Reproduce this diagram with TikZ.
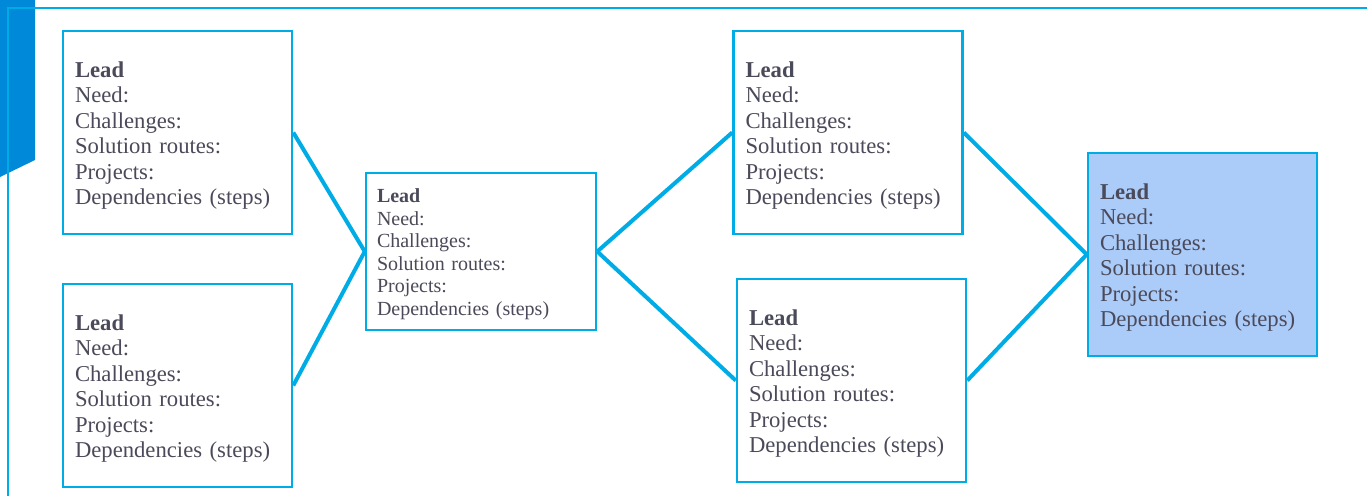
\documentclass[tikz,border=0pt]{standalone}
\usepackage{fontspec}
\setmainfont{Liberation Serif}

\definecolor{cyanline}{RGB}{0,172,230}
\definecolor{bandblue}{RGB}{0,137,216}
\definecolor{textgray}{RGB}{74,74,90}
\definecolor{leadfill}{RGB}{171,203,248}

\tikzset{
  lead/.style={draw=cyanline, line width=1.9pt, fill=white, text=textgray,
    align=left, minimum width=171.75pt, minimum height=152.25pt,
    text width=153.75pt, inner xsep=9pt, font=\fontsize{17}{19.1}\selectfont},
  smalllead/.style={lead, minimum width=172.5pt, minimum height=117.75pt,
    text width=156pt, inner xsep=8.25pt, font=\fontsize{15}{16.9}\selectfont},
  link/.style={cyanline, line width=3pt}
}

\newcommand{\leadtext}{\rule{0pt}{0.95em}\textbf{Lead}\\Need:\\Challenges:\\Solution routes:\\Projects:\\Dependencies (steps)}

\begin{document}
\begin{tikzpicture}[x=0.75pt,y=-0.75pt]

\useasboundingbox (0,0) rectangle (1367,496);

%frame
\fill[bandblue] (0,0) -- (35,0) -- (35,160) -- (0,177) -- cycle;
\draw[cyanline, line width=1.5pt] (8,496) -- (8,8) -- (1367,8);

%leads
\node[lead] (b1) at (177.5,132.5) {\leadtext};
\node[lead] (b2) at (177.5,385.5) {\leadtext};
\node[smalllead] (b3) at (481,251.5) {\leadtext};
\node[lead] (b4) at (848,132.5) {\leadtext};
\node[lead] (b5) at (851.5,380.5) {\leadtext};
\node[lead, fill=leadfill] (b6) at (1202.5,254.5) {\leadtext};

%links
\draw[link] (b1.east) -- (b3.west);
\draw[link] (b2.east) -- (b3.west);
\draw[link] (b3.east) -- (b4.west);
\draw[link] (b3.east) -- (b5.west);
\draw[link] (b4.east) -- (b6.west);
\draw[link] (b5.east) -- (b6.west);

\end{tikzpicture}
\end{document}
